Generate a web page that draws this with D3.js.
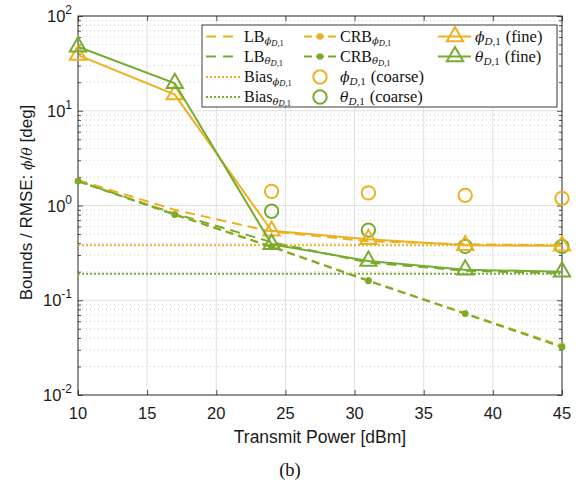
<!DOCTYPE html>
<html>
<head>
<meta charset="utf-8">
<script src="https://cdn.jsdelivr.net/npm/d3@7"></script>
<style>
  html, body { margin: 0; padding: 0; background: #fff; }
  svg { display: block; }
</style>
</head>
<body>
<svg id="chart" width="583" height="484"></svg>
<script>
// Transmit power grid (dBm)
const power = [10, 17, 24, 31, 38, 45];
const powerCoarse = [24, 31, 38, 45];

// Lower bounds (deg)
const lbPhi   = [1.86, 0.90, 0.53, 0.42, 0.39, 0.38];
const lbTheta = [1.81, 0.82, 0.41, 0.25, 0.205, 0.192];

// Bias floors (deg)
const biasPhi = 0.38;
const biasTheta = 0.19;

// Cramér–Rao bounds (deg)
const crbPhi   = [1.82, 0.81, 0.37, 0.162, 0.073, 0.033];
const crbTheta = [1.80, 0.80, 0.365, 0.160, 0.072, 0.032];

// RMSE, coarse estimates (deg)
const coarsePhi   = [1.41, 1.36, 1.28, 1.19];
const coarseTheta = [0.87, 0.55, 0.37, 0.37];

// RMSE, fine estimates (deg)
const finePhi   = [38.7, 14.8, 0.54, 0.44, 0.38, 0.375];
const fineTheta = [47.4, 19.5, 0.39, 0.26, 0.21, 0.20];

// Axis ticks
const xTicks = [10, 15, 20, 25, 30, 35, 40, 45];
const yDecades = [-2, -1, 0, 1, 2];

const ORANGE = "#EDB120";
const GREEN = "#77AC30";

const svg = d3.select("#chart");
const pLeft = 78, pTop = 16, pRight = 562, pBottom = 395;

const x = d3.scaleLinear().domain([10, 45]).range([pLeft, pRight]);
const y = d3.scaleLog().domain([0.01, 100]).range([pBottom, pTop]);

// ---- grid ----
const grid = svg.append("g");
const minorVals = [];
for (let e = -2; e < 2; e++) for (let m = 2; m <= 9; m++) minorVals.push(m * Math.pow(10, e));
grid.selectAll(".ymin").data(minorVals).enter().append("line")
  .attr("x1", pLeft).attr("x2", pRight)
  .attr("y1", d => y(d)).attr("y2", d => y(d))
  .attr("stroke", "#c4c4c4").attr("stroke-width", 0.8)
  .attr("stroke-dasharray", "1,3");
grid.selectAll(".ymaj").data(yDecades.slice(1, -1)).enter().append("line")
  .attr("x1", pLeft).attr("x2", pRight)
  .attr("y1", d => y(Math.pow(10, d))).attr("y2", d => y(Math.pow(10, d)))
  .attr("stroke", "#e0e0e0").attr("stroke-width", 1);
grid.selectAll(".xmaj").data(xTicks.slice(1, -1)).enter().append("line")
  .attr("y1", pTop).attr("y2", pBottom)
  .attr("x1", d => x(d)).attr("x2", d => x(d))
  .attr("stroke", "#e0e0e0").attr("stroke-width", 1);

// ---- axes (ticks inside, box) ----
const axisColor = "#262626";
const tickVals = yDecades.map(e => Math.pow(10, e));
const axL = d3.axisLeft(y).tickValues(tickVals).tickSize(-5).tickFormat("");
const axR = d3.axisRight(y).tickValues(tickVals).tickSize(-5).tickFormat("");
const axB = d3.axisBottom(x).tickValues(xTicks).tickSize(-5).tickFormat("");
const axT = d3.axisTop(x).tickValues(xTicks).tickSize(-5).tickFormat("");
const axLm = d3.axisLeft(y).tickValues(minorVals).tickSize(-3).tickFormat("");
const axRm = d3.axisRight(y).tickValues(minorVals).tickSize(-3).tickFormat("");
function styleAxis(g) {
  g.select(".domain").remove();
  g.selectAll("line").attr("stroke", axisColor).attr("stroke-width", 0.8);
}
svg.append("g").attr("transform", `translate(${pLeft},0)`).call(axL).call(styleAxis);
svg.append("g").attr("transform", `translate(${pRight},0)`).call(axR).call(styleAxis);
svg.append("g").attr("transform", `translate(${pLeft},0)`).call(axLm).call(styleAxis);
svg.append("g").attr("transform", `translate(${pRight},0)`).call(axRm).call(styleAxis);
svg.append("g").attr("transform", `translate(0,${pBottom})`).call(axB).call(styleAxis);
svg.append("g").attr("transform", `translate(0,${pTop})`).call(axT).call(styleAxis);
svg.append("rect").attr("x", pLeft).attr("y", pTop)
  .attr("width", pRight - pLeft).attr("height", pBottom - pTop)
  .attr("fill", "none").attr("stroke", axisColor).attr("stroke-width", 1);

// ---- tick labels ----
const sans = "'Liberation Sans', Arial, Helvetica, sans-serif";
const textColor = "#1a1a1a";
svg.append("g").selectAll("text").data(xTicks).enter().append("text")
  .attr("x", d => x(d)).attr("y", pBottom + 24)
  .attr("text-anchor", "middle").attr("font-family", sans).attr("font-size", 16.5)
  .attr("fill", textColor).text(d => d);
const yl = svg.append("g").selectAll("text").data(yDecades).enter().append("text")
  .attr("x", pLeft - 6).attr("y", d => y(Math.pow(10, d)) + 6)
  .attr("text-anchor", "end").attr("font-family", sans).attr("font-size", 16.5)
  .attr("fill", textColor);
yl.append("tspan").text("10");
yl.append("tspan").attr("dy", -8).attr("font-size", 12).text(d => d);

// axis titles
svg.append("text").attr("x", (pLeft + pRight) / 2).attr("y", 443)
  .attr("text-anchor", "middle").attr("font-family", sans).attr("font-size", 17.5)
  .attr("fill", textColor).text("Transmit Power [dBm]");
const ytitle = svg.append("text")
  .attr("transform", `translate(32,${(pTop + pBottom) / 2 - 3}) rotate(-90)`)
  .attr("text-anchor", "middle").attr("font-family", sans).attr("font-size", 17)
  .attr("fill", textColor);
ytitle.append("tspan").text("Bounds / RMSE: ");
ytitle.append("tspan").attr("font-family", "'DejaVu Serif', serif").attr("font-style", "italic").attr("font-size", 14).text("ϕ");
ytitle.append("tspan").text("/");
ytitle.append("tspan").attr("font-family", "'DejaVu Serif', serif").attr("font-style", "italic").attr("font-size", 14).text("θ");
ytitle.append("tspan").text(" [deg]");

svg.append("text").attr("x", 290).attr("y", 476)
  .attr("text-anchor", "middle").attr("font-family", "'Liberation Serif', 'Times New Roman', serif")
  .attr("font-size", 18.5).attr("fill", "#111").text("(b)");

// ---- series ----
const plot = svg.append("g");
const line = d3.line().x(d => x(d[0])).y(d => y(d[1]));
const zip = (xs, ys) => xs.map((v, i) => [v, ys[i]]);
const LW = 2;

function drawLine(data, color, dash, width) {
  plot.append("path").datum(data).attr("d", line)
    .attr("fill", "none").attr("stroke", color).attr("stroke-width", width)
    .attr("stroke-dasharray", dash);
}
// lower bounds
drawLine(zip(power, lbPhi), ORANGE, "10,6", LW);
drawLine(zip(power, lbTheta), GREEN, "10,6", LW);
// bias floors
drawLine([[10, biasPhi], [45, biasPhi]], ORANGE, "2,2", LW);
drawLine([[10, biasTheta], [45, biasTheta]], GREEN, "2,2", LW);
// CRBs
function drawCrb(vals, color) {
  drawLine(zip(power, vals), color, "8,5", LW);
  plot.append("g").selectAll("circle").data(zip(power, vals)).enter().append("circle")
    .attr("cx", d => x(d[0])).attr("cy", d => y(d[1])).attr("r", 3.3).attr("fill", color);
}
drawCrb(crbPhi, ORANGE);
drawCrb(crbTheta, GREEN);
// coarse estimates
function drawCircles(vals, color) {
  plot.append("g").selectAll("circle").data(zip(powerCoarse, vals)).enter().append("circle")
    .attr("cx", d => x(d[0])).attr("cy", d => y(d[1])).attr("r", 6.7)
    .attr("fill", "none").attr("stroke", color).attr("stroke-width", LW);
}
drawCircles(coarsePhi, ORANGE);
drawCircles(coarseTheta, GREEN);
// fine estimates
const tri = d3.symbol().type(d3.symbolTriangle).size(115);
function drawFine(vals, color) {
  drawLine(zip(power, vals), color, null, LW);
  plot.append("g").selectAll("path").data(zip(power, vals)).enter().append("path")
    .attr("d", tri).attr("transform", d => `translate(${x(d[0])},${y(d[1])})`)
    .attr("fill", "none").attr("stroke", color).attr("stroke-width", LW);
}
drawFine(finePhi, ORANGE);
drawFine(fineTheta, GREEN);

// ---- legend ----
const serif = "'Liberation Serif', 'Times New Roman', serif";
const mathFont = "'DejaVu Serif', serif";
const lg = svg.append("g");
lg.append("rect").attr("x", 202).attr("y", 25).attr("width", 355).attr("height", 82)
  .attr("fill", "#fff").attr("stroke", axisColor).attr("stroke-width", 0.9);

// label with a two-level subscript: main_{sym_{D,1}} suffix
function mathLabel(g, tx, ty, main, sym, suffix) {
  const t = g.append("text").attr("x", tx).attr("y", ty + 5)
    .attr("font-family", serif).attr("font-size", 16).attr("fill", "#111");
  if (main) {
    t.append("tspan").text(main);
    t.append("tspan").attr("font-family", mathFont).attr("font-style", "italic")
      .attr("font-size", 10).attr("dy", 2.5).text(sym);
    t.append("tspan").attr("font-style", "italic").attr("font-size", 8.5).attr("dy", 1.5).text("D");
    t.append("tspan").attr("font-size", 8.5).text(",1");
  } else {
    t.append("tspan").attr("font-family", mathFont).attr("font-style", "italic")
      .attr("font-size", 14).text(sym);
    t.append("tspan").attr("font-style", "italic").attr("font-size", 11).attr("dy", 3).text("D");
    t.append("tspan").attr("font-size", 11).text(",1");
    t.append("tspan").attr("dy", -3).attr("dx", 5).attr("font-size", 16.5).text(suffix);
  }
}
const rows = [36.5, 56.5, 77, 97];
// column 1
[[ORANGE, "10,7", "LB", "ϕ"], [GREEN, "10,7", "LB", "θ"],
 [ORANGE, "2,2", "Bias", "ϕ"], [GREEN, "2,2", "Bias", "θ"]].forEach((r, i) => {
  lg.append("line").attr("x1", 206).attr("x2", 240).attr("y1", rows[i]).attr("y2", rows[i])
    .attr("stroke", r[0]).attr("stroke-width", LW).attr("stroke-dasharray", r[1]);
  mathLabel(lg, 244, rows[i], r[2], r[3]);
});
// column 2
[[ORANGE, "ϕ"], [GREEN, "θ"]].forEach((r, i) => {
  lg.append("line").attr("x1", 304).attr("x2", 336).attr("y1", rows[i]).attr("y2", rows[i])
    .attr("stroke", r[0]).attr("stroke-width", LW).attr("stroke-dasharray", "8,4");
  lg.append("circle").attr("cx", 320).attr("cy", rows[i]).attr("r", 3.3).attr("fill", r[0]);
  mathLabel(lg, 340, rows[i], "CRB", r[1]);
});
[[ORANGE, "ϕ"], [GREEN, "θ"]].forEach((r, i) => {
  lg.append("circle").attr("cx", 320).attr("cy", rows[i + 2]).attr("r", 6.7)
    .attr("fill", "none").attr("stroke", r[0]).attr("stroke-width", LW);
  mathLabel(lg, 340, rows[i + 2], null, r[1], "(coarse)");
});
// column 3
[[ORANGE, "ϕ"], [GREEN, "θ"]].forEach((r, i) => {
  lg.append("line").attr("x1", 438).attr("x2", 471).attr("y1", rows[i]).attr("y2", rows[i])
    .attr("stroke", r[0]).attr("stroke-width", LW);
  lg.append("path").attr("d", tri).attr("transform", `translate(455,${rows[i]})`)
    .attr("fill", "none").attr("stroke", r[0]).attr("stroke-width", LW);
  mathLabel(lg, 475, rows[i], null, r[1], "(fine)");
});
</script>
</body>
</html>
